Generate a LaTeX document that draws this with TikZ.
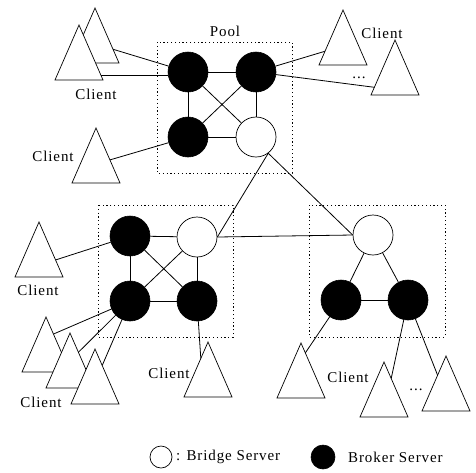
\documentclass[tikz,border=0pt]{standalone}
\usepackage{fontspec}
\setmainfont{Liberation Serif}[LetterSpace=6]
\usetikzlibrary{calc}
\newcommand\mytri[3]{%
  \coordinate (#1-a) at (#2,#3);
  \coordinate (#1-l) at ($(#1-a)+(-24,55)$);
  \coordinate (#1-r) at ($(#1-a)+(24,55)$);
  \draw[clienttri] (#1-a) -- (#1-l) -- (#1-r) -- cycle;}
\begin{document}
\begin{tikzpicture}[x=1pt,y=-1pt,
  broker/.style={circle,fill=black,draw=black,line width=0.6pt,minimum size=40pt,inner sep=0pt},
  bridge/.style={circle,fill=white,draw=black,line width=0.7pt,minimum size=40pt,inner sep=0pt},
  link/.style={line width=0.8pt},
  poolbox/.style={draw,line width=0.9pt,dash pattern=on 1.2pt off 2.6pt},
  lbl/.style={font=\fontsize{15}{18}\selectfont,inner sep=0pt},
  clienttri/.style={draw,fill=white,line width=0.7pt,line join=miter}]
\useasboundingbox (0,0) rectangle (476,472);

% pool boxes
\draw[poolbox] (157,42) rectangle (292,173);
\draw[poolbox] (98,205) rectangle (233,337);
\draw[poolbox] (309,205) rectangle (445,337);

% client triangles
\mytri{tlb}{95}{8}
\mytri{tlf}{79}{25}
\mytri{lm}{96}{128}
\mytri{tra}{343}{10}
\mytri{trb}{395}{40}
\mytri{lp}{39}{222}
\mytri{ba}{46}{317}
\mytri{bb}{70}{333}
\mytri{bc}{95}{349}
\mytri{bd}{208}{342}
\mytri{ra}{301}{343}
\mytri{rb}{384}{362}
\mytri{rc}{446}{356}

% servers
\node[broker] (a1) at (188,72) {};
\node[broker] (a2) at (256,72) {};
\node[broker] (a3) at (188,137) {};
\node[bridge] (a4) at (256,137) {};
\node[broker] (b1) at (130,236) {};
\node[bridge] (b2) at (197,237) {};
\node[broker] (b3) at (130,301) {};
\node[broker] (b4) at (197,301) {};
\node[bridge] (c1) at (373,235) {};
\node[broker] (c2) at (341,300) {};
\node[broker] (c3) at (408,300) {};

% pool links
\draw[link] (a1) -- (a2);
\draw[link] (a1) -- (a3);
\draw[link] (a1) -- (a4);
\draw[link] (a2) -- (a3);
\draw[link] (a2) -- (a4);
\draw[link] (a3) -- (a4);
\draw[link] (b1) -- (b2);
\draw[link] (b1) -- (b3);
\draw[link] (b1) -- (b4);
\draw[link] (b2) -- (b3);
\draw[link] (b2) -- (b4);
\draw[link] (b3) -- (b4);
\draw[link] (c1) -- (c2);
\draw[link] (c1) -- (c3);
\draw[link] (c2) -- (c3);

% bridge links
\draw[link] (a4.-53) -- (b2.east);
\draw[link] (a4.-53) -- (c1.west);
\draw[link] (b2.east) -- (c1.west);

% client links
\coordinate (p1) at ($(tlb-a)!0.75!(tlb-r)$);
\draw[link] (p1) -- (a1);
\coordinate (p2) at ($(tlf-a)!0.91!(tlf-r)$);
\draw[link] (p2) -- (a1.west |- p2);
\coordinate (p3) at ($(lm-a)!0.58!(lm-r)$);
\draw[link] (p3) -- (a3);
\coordinate (p4) at ($(tra-a)!0.75!(tra-l)$);
\draw[link] (a2) -- (p4);
\coordinate (p5) at ($(trb-a)!0.86!(trb-l)$);
\draw[link] (a2) -- (p5);
\coordinate (p6) at ($(lp-a)!0.69!(lp-r)$);
\draw[link] (p6) -- (b1);
\coordinate (p7) at ($(ba-a)!0.31!(ba-r)$);
\draw[link] (p7) -- (b3);
\coordinate (p8) at ($(bb-a)!0.35!(bb-r)$);
\draw[link] (p8) -- (b3);
\coordinate (p9) at ($(bc-a)!0.3!(bc-r)$);
\draw[link] (p9) -- (b3);
\coordinate (p10) at ($(bd-a)!0.3!(bd-l)$);
\draw[link] (b4) -- (p10);
\coordinate (p11) at ($(ra-a)!0.18!(ra-r)$);
\draw[link] (c2) -- (p11);
\coordinate (p12) at ($(rb-a)!0.3!(rb-r)$);
\draw[link] (c3) -- (p12);
\coordinate (p13) at ($(rc-a)!0.35!(rc-l)$);
\draw[link] (c3) -- (p13);

% labels
\node[lbl] (tpool) at (225,31) {Pool};
\node[lbl] (t1) at (96,94) {Client};
\node[lbl] (t2) at (53,156) {Client};
\node[lbl] (t3) at (382,33) {Client};
\node[lbl] (t4) at (38,290) {Client};
\node[lbl] (t5) at (41,402) {Client};
\node[lbl] (t6) at (169,373) {Client};
\node[lbl] (t7) at (348,377) {Client};
\node[lbl,anchor=base] (d1) at (359,78) {...};
\node[lbl,anchor=base] (d2) at (416,390) {...};

% legend
\node[bridge,minimum size=22pt] (lgb) at (161,457) {};
\node[lbl,anchor=west] (lgbt) at (176,457) {: Bridge Server};
\node[broker,minimum size=24pt] (lgk) at (323,457) {};
\node[lbl,anchor=west] (lgkt) at (348,457) {Broker Server};
\end{tikzpicture}
\end{document}
